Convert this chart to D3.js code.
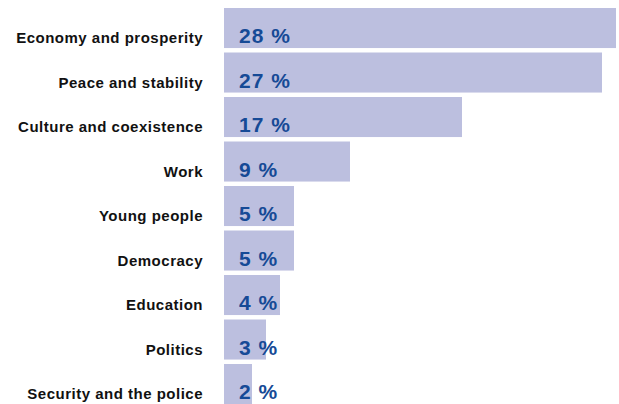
<!DOCTYPE html>
<html>
<head>
<meta charset="utf-8">
<script src="https://cdn.jsdelivr.net/npm/d3@7"></script>
<style>
  html, body { margin: 0; padding: 0; background: #ffffff; }
  svg { display: block; }
</style>
</head>
<body>
<script>
const categories = [
  "Economy and prosperity",
  "Peace and stability",
  "Culture and coexistence",
  "Work",
  "Young people",
  "Democracy",
  "Education",
  "Politics",
  "Security and the police"
];
const values = [28, 27, 17, 9, 5, 5, 4, 3, 2];
const valueLabels = ["28 %", "27 %", "17 %", "9 %", "5 %", "5 %", "4 %", "3 %", "2 %"];

const W = 619, H = 404;
const svg = d3.select("body").append("svg").attr("width", W).attr("height", H);

const x = d3.scaleLinear().domain([0, 28]).range([224, 616]);
const y = d3.scaleBand().domain(categories).range([8, 404.05]).paddingInner(0.1).paddingOuter(0);

const data = categories.map((c, i) => ({ c, v: values[i], l: valueLabels[i] }));

svg.selectAll("rect.bar").data(data).enter().append("rect")
  .attr("class", "bar")
  .attr("x", x(0))
  .attr("y", d => y(d.c))
  .attr("width", d => x(d.v) - x(0))
  .attr("height", y.bandwidth())
  .attr("fill", "#bcbfdf");

svg.selectAll("text.cat").data(data).enter().append("text")
  .attr("class", "cat")
  .attr("x", 203)
  .attr("y", d => y(d.c) + 35)
  .attr("text-anchor", "end")
  .attr("font-family", "Liberation Sans, Arial, sans-serif")
  .attr("font-weight", "bold")
  .attr("font-size", 15)
  .attr("letter-spacing", 0.5)
  .attr("fill", "#111111")
  .text(d => d.c);

svg.selectAll("text.val").data(data).enter().append("text")
  .attr("class", "val")
  .attr("x", 239)
  .attr("y", d => y(d.c) + 35)
  .attr("text-anchor", "start")
  .attr("font-family", "Liberation Sans, Arial, sans-serif")
  .attr("font-weight", "bold")
  .attr("font-size", 21)
  .attr("letter-spacing", 1)
  .attr("fill", "#164a96")
  .text(d => d.l);
</script>
</body>
</html>
